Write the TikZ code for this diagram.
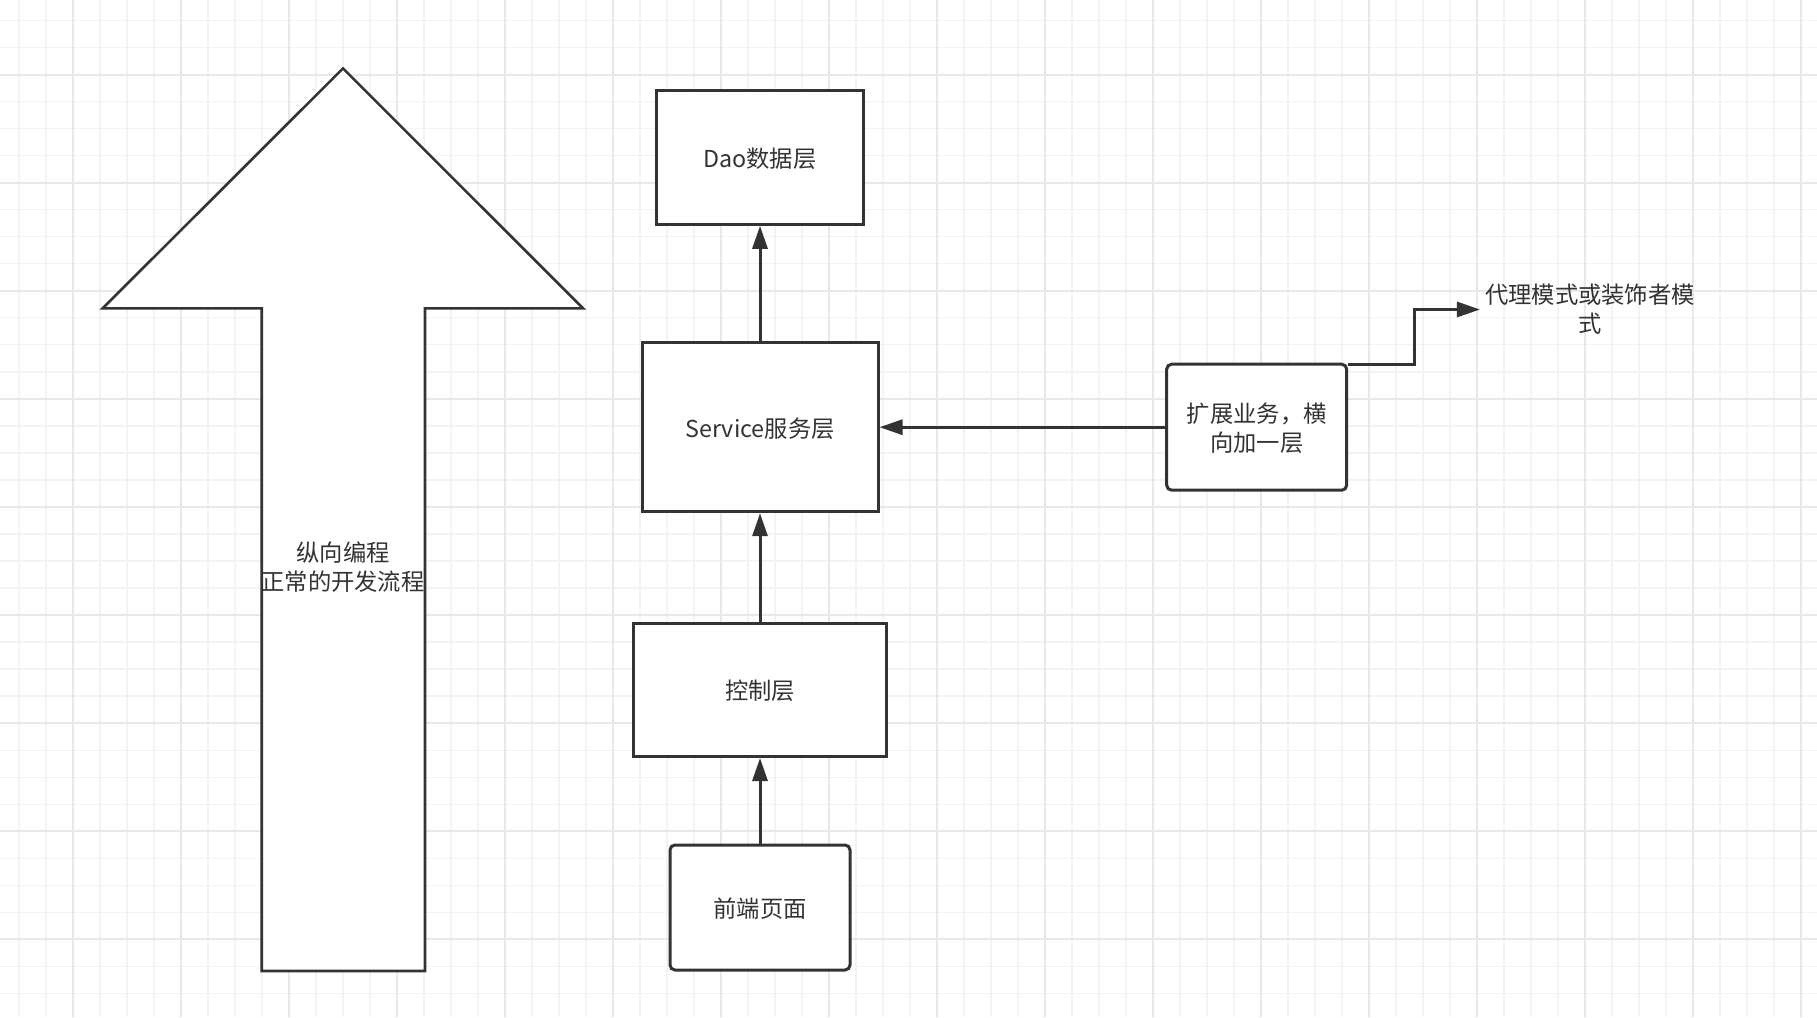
\documentclass[tikz,border=0pt]{standalone}
\usepackage{fontspec}
\setmainfont{Noto Sans CJK SC}
\usetikzlibrary{arrows.meta}
\definecolor{ink}{HTML}{333333}
\definecolor{gminor}{HTML}{F3F3F3}
\definecolor{gmajor}{HTML}{E8E8E8}
\begin{document}
\begin{tikzpicture}[x=1pt,y=-1pt,
  lbl/.style={font=\fontsize{23.3}{29}\selectfont, text=ink, align=center},
  box/.style={draw=ink, line width=3pt, fill=white, lbl, inner sep=0pt, text depth=0pt},
  rbox/.style={box, rounded corners=5pt},
  conn/.style={draw=ink, line width=3pt, -{Triangle[length=23pt,width=15pt]}},
  gmin/.style={draw=gminor, line width=1.3pt},
  gmaj/.style={draw=gmajor, line width=1.8pt},
  bigarrow/.style={draw=ink, line width=2.6pt, fill=white, line join=miter}
]
\useasboundingbox (0,0) rectangle (1817,1017);
\fill[white] (0,0) rectangle (1817,1017);
% grid
\foreach \i in {0,...,67} \draw[gmin] ({19+\i*27.0},0) -- ({19+\i*27.0},1017);
\foreach \i in {0,...,38} \draw[gmin] (0,{20.6+\i*27.02}) -- (1817,{20.6+\i*27.02});
\foreach \i in {0,...,16} \draw[gmaj] ({73+\i*108.0},0) -- ({73+\i*108.0},1017);
\foreach \i in {0,...,8} \draw[gmaj] (0,{74.7+\i*108.08}) -- (1817,{74.7+\i*108.08});
% big arrow
\draw[bigarrow] (343,68.4) -- (583,308.3) -- (425,308.3) -- (425,971) -- (261.7,971) -- (261.7,308.3) -- (102.7,308.3) -- cycle;
\node[lbl] (vtext) at (343,567) {纵向编程\\正常的开发流程};
% boxes
\node[box, minimum width=207pt, minimum height=134pt] (dao) at (760,157.3) {Dao数据层};
\node[box, minimum width=236pt, minimum height=169pt] (svc) at (760,427.2) {Service服务层};
\node[box, minimum width=253pt, minimum height=133pt] (ctrl) at (760,690) {控制层};
\node[rbox, minimum width=180pt, minimum height=125pt] (front) at (760,907.5) {前端页面};
\node[rbox, minimum width=180pt, minimum height=126pt] (ext) at (1256.7,427.2) {扩展业务，横\\向加一层};
\node[lbl, inner sep=5pt] (proxy) at (1590,309.5) {代理模式或装饰者模\\式};
% connectors
\draw[conn] (svc) -- (dao);
\draw[conn] (ctrl) -- (svc);
\draw[conn] (front) -- (ctrl);
\draw[conn] (ext) -- (svc);
\draw[conn] ([yshift=-1.5pt]ext.north east) -- ++(66,0) |- (proxy.west);
\end{tikzpicture}
\end{document}
